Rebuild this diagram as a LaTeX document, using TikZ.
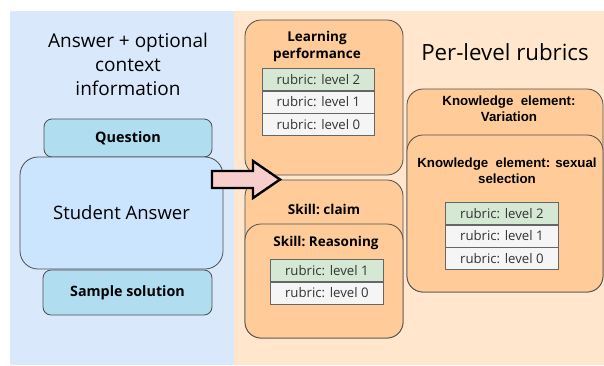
\documentclass[tikz,border=0pt]{standalone}
\usepackage{fontspec}
\setmainfont{Open Sans}
\newfontfamily\arialfont{Liberation Sans}
\usetikzlibrary{positioning}
\definecolor{leftbg}{HTML}{DAE8FC}
\definecolor{rightbg}{HTML}{FFE6CC}
\definecolor{cardfill}{HTML}{FFCC99}
\definecolor{qfill}{HTML}{B1DDF0}
\definecolor{safill}{HTML}{CCE5FF}
\definecolor{greenrow}{HTML}{D5E8D4}
\definecolor{grayrow}{HTML}{F5F5F5}
\definecolor{rowline}{HTML}{666666}
\definecolor{cardline}{HTML}{4D4D4D}
\definecolor{arrowfill}{HTML}{F8CECC}
\begin{document}
\begin{tikzpicture}[x=1pt,y=-1pt,
  box/.style={draw=cardline, line width=0.8pt, anchor=north west, inner sep=0pt, outer sep=0pt},
  card/.style={box, fill=cardfill, rounded corners=16pt},
  rowcell/.style={draw=rowline, line width=0.7pt, anchor=north west, inner sep=0pt,
    minimum height=22pt, text=black!80, font=\fontsize{13.2}{15}\selectfont},
  lvlgreen/.style={rowcell, fill=greenrow},
  lvlgray/.style={rowcell, fill=grayrow},
  cardtitle/.style={align=center, font=\bfseries\fontsize{13.5}{17}\selectfont},
  ketitle/.style={align=center, font=\arialfont\bfseries\fontsize{13.3}{16}\selectfont},
]
% canvas and the two panels
\useasboundingbox (0,0) rectangle (604,365);
\fill[white] (0,0) rectangle (604,365);
\fill[leftbg] (10,11) rectangle (234,365);
\fill[rightbg] (234,11) rectangle (604,365);

% left panel: inputs
\node[align=center, font=\fontsize{19}{24}\selectfont] (lefthead) at (128,64)
  {Answer + optional\\context\\information};
\node[box, fill=qfill, rounded corners=8pt, minimum width=168pt, minimum height=38pt] (question) at (44,119) {};
\node[font=\bfseries\fontsize{14.4}{16}\selectfont] (qtext) at (question.center) {Question};
\node[box, fill=qfill, rounded corners=8pt, minimum width=169pt, minimum height=45pt] (sample) at (43,270) {};
\node[font=\bfseries\fontsize{14.3}{16}\selectfont] (stext) at (sample.center) {Sample solution};
\node[box, fill=safill, rounded corners=18pt, minimum width=203pt, minimum height=112pt] (answer) at (20,157) {};
\node[font=\fontsize{18.5}{21}\selectfont] (atext) at (answer.center) {Student Answer};

% right panel: rubric cards
\node[font=\fontsize{22.3}{25}\selectfont] (righthead) at (505,52) {Per-level rubrics};

\node[card, minimum width=158pt, minimum height=155pt] (learn) at (245,20) {};
\node[cardtitle] (learntext) at (317,46) {Learning\\performance};
\node[lvlgreen, minimum width=112pt] (l2) at (262,68) {rubric: level 2};
\node[lvlgray, minimum width=112pt] (l1) at (l2.south west) {rubric: level 1};
\node[lvlgray, minimum width=112pt] (l0) at (l1.south west) {rubric: level 0};

\node[card, minimum width=158pt, minimum height=158pt] (claim) at (245,180) {};
\node[cardtitle] (claimtext) at (324,209) {Skill:\ claim};
\node[card, minimum width=158pt, minimum height=114pt] (reason) at (245,224) {};
\node[cardtitle] (reasontext) at (326,243) {Skill:\ Reasoning};
\node[lvlgreen, minimum width=113pt] (r1) at (270,259) {rubric: level 1};
\node[lvlgray, minimum width=113pt] (r0) at (r1.south west) {rubric: level 0};

\node[card, minimum width=196pt, minimum height=203pt] (variation) at (407,89) {};
\node[ketitle] (vartext) at (509,109) {Knowledge\ \ element:\\Variation};
\node[card, minimum width=196pt, minimum height=157pt] (sexual) at (407,135) {};
\node[ketitle] (sextext) at (507,171) {Knowledge\ \ element: sexual\\selection};
\node[lvlgreen, minimum width=113pt] (k2) at (445,202) {rubric: level 2};
\node[lvlgray, minimum width=113pt] (k1) at (k2.south west) {rubric: level 1};
\node[lvlgray, minimum width=113pt] (k0) at (k1.south west) {rubric: level 0};

% block arrow from the inputs to the rubrics
\draw[fill=arrowfill, line width=2.4pt, line join=miter]
  (212,171) -- (253,171) -- (253,161) -- (280,179.5) -- (253,198) -- (253,188) -- (212,188) -- cycle;
\end{tikzpicture}
\end{document}
